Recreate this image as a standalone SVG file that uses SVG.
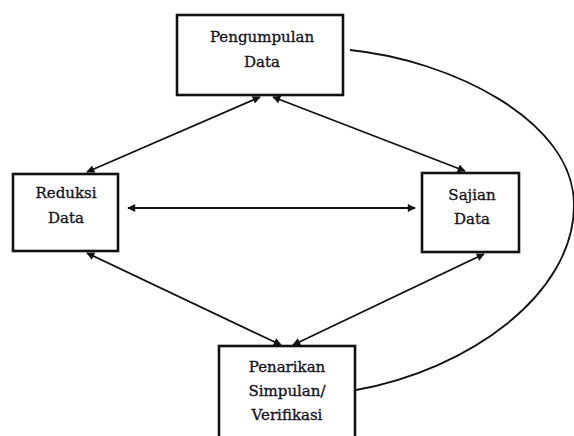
<svg xmlns="http://www.w3.org/2000/svg" width="574" height="436" viewBox="0 0 574 436">
<style>
.box{fill:#fff;stroke:#111;stroke-width:2.6}
.lbl{font-family:"DejaVu Serif","Liberation Serif",serif;font-size:15px;fill:#15151f;stroke:#15151f;stroke-width:0.35;text-anchor:middle}
.con{fill:none;stroke:#111;stroke-width:1.8}
</style>
<defs>
<marker id="ah" viewBox="0 0 10 10" refX="9" refY="5" markerWidth="9" markerHeight="8" markerUnits="userSpaceOnUse" orient="auto-start-reverse">
<path d="M0,0 L10,5 L0,10 z" fill="#111"/>
</marker>
</defs>
<rect width="574" height="436" fill="#fff"/>
<g id="connectors">
<line class="con" x1="260" y1="97" x2="87" y2="172" marker-start="url(#ah)" marker-end="url(#ah)"/>
<line class="con" x1="273" y1="97" x2="465" y2="171" marker-start="url(#ah)" marker-end="url(#ah)"/>
<line class="con" x1="128" y1="208" x2="415" y2="208" marker-start="url(#ah)" marker-end="url(#ah)"/>
<line class="con" x1="87" y1="253" x2="281" y2="345" marker-start="url(#ah)" marker-end="url(#ah)"/>
<line class="con" x1="484" y1="254" x2="293" y2="345" marker-start="url(#ah)" marker-end="url(#ah)"/>
<path class="con" d="M350,50 C450,60 574,120 574,205 C574,295 468,370 356,390"/>
</g>
<g id="pengumpulan">
<rect class="box" x="177" y="15" width="166" height="80"/>
<text class="lbl" x="262" y="42">Pengumpulan</text>
<text class="lbl" x="262" y="67">Data</text>
</g>
<g id="reduksi">
<rect class="box" x="13" y="174" width="105" height="77"/>
<text class="lbl" x="66" y="198">Reduksi</text>
<text class="lbl" x="66" y="223">Data</text>
</g>
<g id="sajian">
<rect class="box" x="422" y="173" width="97" height="79"/>
<text class="lbl" x="472" y="200">Sajian</text>
<text class="lbl" x="472" y="224">Data</text>
</g>
<g id="penarikan">
<rect class="box" x="219" y="346" width="136" height="100"/>
<text class="lbl" x="287" y="372">Penarikan</text>
<text class="lbl" x="287" y="396">Simpulan/</text>
<text class="lbl" x="287" y="420">Verifikasi</text>
</g>
</svg>
